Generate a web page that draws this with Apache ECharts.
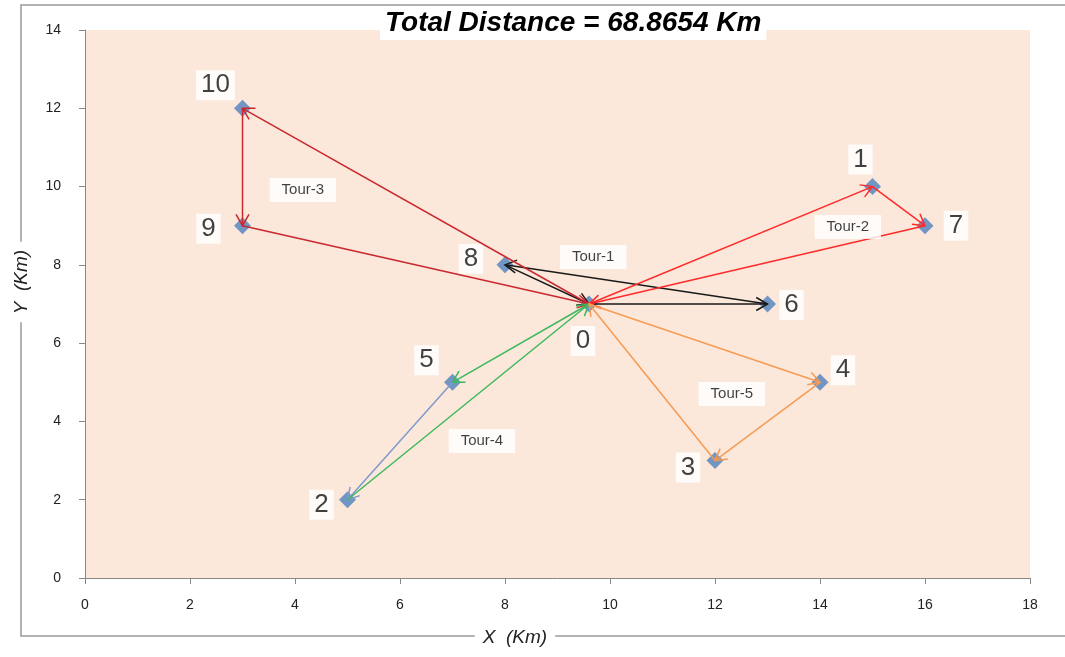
<!DOCTYPE html>
<html>
<head>
<meta charset="utf-8">
<title>Total Distance</title>
<script src="https://cdn.jsdelivr.net/npm/echarts@6/dist/echarts.min.js"></script>
<style>
  html, body { margin: 0; padding: 0; background: #fff; }
  #chart { width: 1065px; height: 657px; }
</style>
</head>
<body>
<div id="chart"></div>
<script>
// node ids and coordinates (Km)
const nodeIds = ['0', '1', '2', '3', '4', '5', '6', '7', '8', '9', '10'];
const nodeX = [9.6, 15, 5, 12, 14, 7, 13, 16, 8, 3, 3];
const nodeY = [7, 10, 2, 3, 5, 5, 7, 9, 8, 9, 12];

// tours as sequences of node indices
const tourNames = ['Tour-1', 'Tour-2', 'Tour-3', 'Tour-4', 'Tour-5'];
const tourRoutes = [
  [0, 6, 8, 0],
  [0, 1, 7, 0],
  [0, 10, 9, 0],
  [0, 5, 2, 0],
  [0, 4, 3, 0],
];
// where each tour's tag sits (Km)
const tourTagX = [9.68, 14.53, 4.15, 7.56, 12.32];
const tourTagY = [8.2, 8.97, 9.91, 3.5, 4.7];

const titleText = 'Total Distance = 68.8654 Km';
const xTitle = 'X  (Km)';
const yTitle = 'Y  (Km)';

// styling, kept apart from the data
const segColors = [
  ['#1a1a1a', '#1a1a1a', '#1a1a1a'],
  ['#ff2a2a', '#ff2a2a', '#ff2a2a'],
  ['#c8282e', '#c8282e', '#c8282e'],
  ['#3cb95c', '#7f9acb', '#3cb95c'],
  ['#f79a52', '#f79a52', '#f79a52'],
];
const labelOffsets = {
  '0': [-6, 37], '1': [-12, -27], '2': [-26, 5], '3': [-27, 7],
  '4': [23, -12], '5': [-26, -22], '6': [24, 1], '7': [31, 0],
  '8': [-34, -6], '9': [-34, 3], '10': [-27, -23],
};

let segData = [];
let segColorList = [];
tourRoutes.forEach((route, t) => {
  for (let i = 0; i < route.length - 1; i++) {
    const a = route[i], b = route[i + 1];
    segData.push([nodeX[a], nodeY[a], nodeX[b], nodeY[b]]);
    segColorList.push(segColors[t][i]);
  }
});

const nodeData = nodeIds.map((id, i) => ({
  name: id,
  value: [nodeX[i], nodeY[i]],
  label: { offset: labelOffsets[id] },
}));

const tagData = tourNames.map((n, i) => ({ name: n, value: [tourTagX[i], tourTagY[i]] }));

const axisText = { color: '#222', fontSize: 14, fontFamily: 'Liberation Sans' };
const axisTitleStyle = {
  fontFamily: 'Liberation Sans', fontSize: 19, fontStyle: 'italic', fill: '#222',
  backgroundColor: '#fff', padding: [0, 8], align: 'center', verticalAlign: 'middle',
};

let option = {
  animation: false,
  title: {
    text: titleText,
    left: 380,
    top: 6,
    padding: [3, 5, 3, 5],
    backgroundColor: '#fff',
    textStyle: {
      fontFamily: 'Liberation Sans',
      fontSize: 28,
      fontWeight: 'bold',
      fontStyle: 'italic',
      color: '#000',
    },
  },
  graphic: [
    {
      type: 'rect',
      z: -10,
      shape: { x: 21, y: 5, width: 1100, height: 631 },
      style: { fill: null, stroke: '#999', lineWidth: 1.5 },
    },
    {
      type: 'text',
      z: 10,
      x: 515,
      y: 638,
      style: Object.assign({ text: xTitle }, axisTitleStyle),
    },
    {
      type: 'text',
      z: 10,
      x: 22,
      y: 282,
      rotation: Math.PI / 2,
      style: Object.assign({ text: yTitle }, axisTitleStyle),
    },
  ],
  grid: {
    left: 85,
    right: 35,
    top: 30,
    bottom: 79,
    show: true,
    backgroundColor: '#fce8db',
    borderWidth: 0,
    containLabel: false,
    outerBoundsMode: 'none',
  },
  xAxis: {
    type: 'value',
    min: 0,
    max: 18,
    interval: 2,
    axisLine: { show: true, lineStyle: { color: '#888', width: 1 } },
    axisTick: { show: true, length: 6, lineStyle: { color: '#888' } },
    axisLabel: Object.assign({ margin: 20 }, axisText),
    splitLine: { show: false },
  },
  yAxis: {
    type: 'value',
    min: 0,
    max: 14,
    interval: 2,
    axisLine: { show: true, lineStyle: { color: '#888', width: 1 } },
    axisTick: { show: true, length: 6, lineStyle: { color: '#888' } },
    axisLabel: Object.assign({ margin: 24 }, axisText),
    splitLine: { show: false },
  },
  series: [
    {
      type: 'scatter',
      z: 2,
      symbol: 'diamond',
      symbolSize: 17,
      itemStyle: { color: '#4f81bd' },
      data: nodeData,
      label: {
        show: true,
        position: 'inside',
        formatter: '{b}',
        fontFamily: 'Liberation Sans',
        fontSize: 26,
        color: '#111',
        backgroundColor: '#fff',
        padding: [3, 5, 1, 5],
      },
    },
    {
      type: 'custom',
      z: 3,
      encode: { x: [0, 2], y: [1, 3] },
      data: segData,
      renderItem: function (params, api) {
        const p1 = api.coord([api.value(0), api.value(1)]);
        const p2 = api.coord([api.value(2), api.value(3)]);
        const color = segColorList[params.dataIndex];
        const ang = Math.atan2(p2[1] - p1[1], p2[0] - p1[0]);
        const L = 13, A = Math.PI / 6;
        const b1 = [p2[0] - L * Math.cos(ang - A), p2[1] - L * Math.sin(ang - A)];
        const b2 = [p2[0] - L * Math.cos(ang + A), p2[1] - L * Math.sin(ang + A)];
        return {
          type: 'group',
          children: [
            {
              type: 'line',
              shape: { x1: p1[0], y1: p1[1], x2: p2[0], y2: p2[1] },
              style: { stroke: color, lineWidth: 1.5 },
            },
            {
              type: 'polyline',
              shape: { points: [b1, p2, b2] },
              style: { stroke: color, fill: null, lineWidth: 1.5 },
            },
          ],
        };
      },
    },
    {
      type: 'scatter',
      z: 4,
      symbolSize: 0,
      data: tagData,
      label: {
        show: true,
        position: 'inside',
        formatter: '{b}',
        fontFamily: 'Liberation Sans',
        fontSize: 15,
        color: '#111',
        backgroundColor: '#fff',
        padding: [5, 12, 4, 12],
      },
    },
  ],
};

let chartDom = document.getElementById('chart');
let myChart = echarts.init(chartDom, null, { renderer: 'canvas' });
myChart.setOption(option);
</script>
</body>
</html>
